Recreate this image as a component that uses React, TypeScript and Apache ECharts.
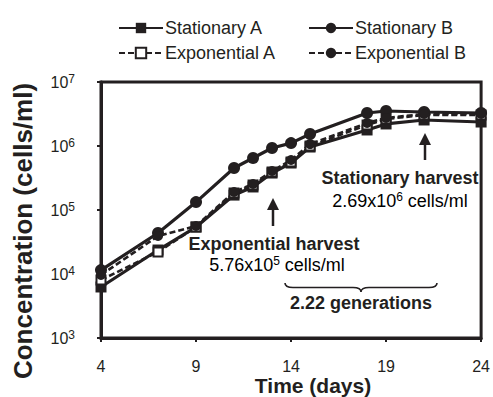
import React, { useEffect, useRef } from "react";
import * as echarts from "echarts";

const days = [4, 7, 9, 11, 12, 13, 14, 15, 18, 19, 21, 24];
const stationaryA = [6270, 23700, 54200, 171000, 229000, 378000, 542000, 964000, 1780000, 2210000, 2550000, 2370000];
const stationaryB = [11500, 43700, 133000, 453000, 649000, 931000, 1110000, 1540000, 3280000, 3520000, 3400000, 3280000];
const exponentialA = [8060, 22100, 54200, 184000, 246000, 392000, 562000, 1000000, 2130000, 2640000, 3050000, 3050000];
const exponentialB = [9640, 39200, 56200, 191000, 255000, 407000, 604000, 1070000, 2290000, 2740000, 3160000, 3160000];
const seriesNames = ["Stationary A", "Stationary B", "Exponential A", "Exponential B"];

const FONT = "Arial, 'Liberation Sans', sans-serif";
const INK = "#231f20";

const bracePath = "M0,0 Q0,4.5 8,4.5 L68,4.5 Q76,4.5 76,9 Q76,4.5 84,4.5 L144,4.5 Q152,4.5 152,0";
echarts.graphic.registerShape("brace", echarts.graphic.extendPath(bracePath, {}));

function pairs(vals: number[]) {
  return days.map((d, i) => [d, vals[i]]);
}

export default function App() {
  const ref = useRef<HTMLDivElement>(null);
  useEffect(() => {
    document.body.style.margin = "0";
    if (!ref.current) return;
    const chart = echarts.init(ref.current, null, { renderer: "svg" });
    const solid = { color: INK, width: 3.2 };
    const dashed = { color: INK, width: 2.6, type: [6, 3] as any };
    const arrow = (x: number, yTip: number, yBot: number) => [
      { type: "line", shape: { x1: x, y1: yTip + 8, x2: x, y2: yBot }, style: { stroke: INK, lineWidth: 2.5 } },
      { type: "polygon", shape: { points: [[x - 6, yTip + 12], [x + 6, yTip + 12], [x, yTip]] }, style: { fill: INK } },
    ];
    const sup = { fontSize: 12, fontFamily: FONT, color: INK, verticalAlign: "top", padding: [0, 0, 8, 0] };
    const legendText = { fontSize: 18, fontFamily: FONT, color: INK, padding: [0, 0, 0, -3] };
    chart.setOption({
      animation: false,
      grid: { left: 101, right: 10, top: 82, bottom: 59, show: true, borderColor: INK, borderWidth: 3, containLabel: false },
      legend: [
        {
          data: [seriesNames[0], seriesNames[2]],
          orient: "vertical", left: 113, top: 14, itemWidth: 44, itemHeight: 13, itemGap: 7,
          textStyle: legendText,
        },
        {
          data: [seriesNames[1], seriesNames[3]],
          orient: "vertical", left: 303, top: 14, itemWidth: 44, itemHeight: 13, itemGap: 7,
          textStyle: legendText,
        },
      ],
      xAxis: {
        type: "value", min: 4, max: 24, interval: 5,
        axisLine: { lineStyle: { color: INK, width: 3 } },
        axisTick: { show: true, length: 4, lineStyle: { color: INK, width: 2 } },
        splitLine: { show: false },
        axisLabel: { fontSize: 16, fontFamily: FONT, color: INK, margin: 20 },
      },
      yAxis: {
        type: "log", logBase: 10, min: 1000, max: 10000000,
        axisLine: { show: true, lineStyle: { color: INK, width: 3 } },
        axisTick: { show: true, length: 4, lineStyle: { color: INK, width: 2 } },
        splitLine: { show: false },
        minorTick: { show: false },
        axisLabel: {
          margin: 26,
          formatter: (v: number) => "{b|10}{s|" + Math.round(Math.log10(v)) + "}",
          rich: {
            b: { fontSize: 16, fontFamily: FONT, color: INK },
            s: { ...sup, fontSize: 12, padding: [0, 0, 7, 0] },
          },
        },
      },
      series: [
        { name: seriesNames[0], type: "line", data: pairs(stationaryA), symbol: "rect", symbolSize: 11, lineStyle: solid, itemStyle: { color: INK }, z: 2 },
        { name: seriesNames[1], type: "line", data: pairs(stationaryB), symbol: "circle", symbolSize: 12, lineStyle: solid, itemStyle: { color: INK }, z: 2 },
        { name: seriesNames[2], type: "line", data: pairs(exponentialA), symbol: "rect", symbolSize: 9, showAllSymbol: true, lineStyle: dashed, itemStyle: { color: "#ffffff", borderColor: INK, borderWidth: 2 }, z: 3 },
        { name: seriesNames[3], type: "line", data: pairs(exponentialB), symbol: "circle", symbolSize: 10, lineStyle: dashed, itemStyle: { color: INK }, z: 3 },
      ],
      graphic: [
        ...arrow(425, 133, 160),
        ...arrow(273, 198, 226),
        { type: "text", x: 400, y: 178, style: { text: "Stationary harvest", font: `bold 18px ${FONT}`, fill: INK, align: "center", verticalAlign: "middle" } },
        {
          type: "text", x: 400, y: 201,
          style: {
            text: "{a|2.69x10}{s|6}{a| cells/ml}", align: "center", verticalAlign: "middle",
            rich: { a: { fontSize: 18, fontFamily: FONT, color: INK }, s: sup },
          },
        },
        { type: "text", x: 274, y: 244, style: { text: "Exponential harvest", font: `bold 18px ${FONT}`, fill: INK, align: "center", verticalAlign: "middle" } },
        {
          type: "text", x: 277, y: 265,
          style: {
            text: "{a|5.76x10}{s|5}{a| cells/ml}", align: "center", verticalAlign: "middle",
            rich: { a: { fontSize: 18, fontFamily: FONT, color: INK }, s: sup },
          },
        },
        { type: "brace", x: 285, y: 283, style: { fill: null, stroke: INK, lineWidth: 1.6 } },
        { type: "text", x: 313, y: 385, style: { text: "Time (days)", font: `bold 21px ${FONT}`, fill: INK, align: "center", verticalAlign: "middle" } },
        { type: "text", x: 361, y: 303, style: { text: "2.22 generations", font: `bold 18px ${FONT}`, fill: INK, align: "center", verticalAlign: "middle" } },
        { type: "text", x: 23, y: 231, rotation: Math.PI / 2, style: { text: "Concentration (cells/ml)", font: `bold 26px ${FONT}`, fill: INK, align: "center", verticalAlign: "middle" } },
      ],
    });
    return () => chart.dispose();
  }, []);
  return <div ref={ref} style={{ width: 493, height: 397 }} />;
}
